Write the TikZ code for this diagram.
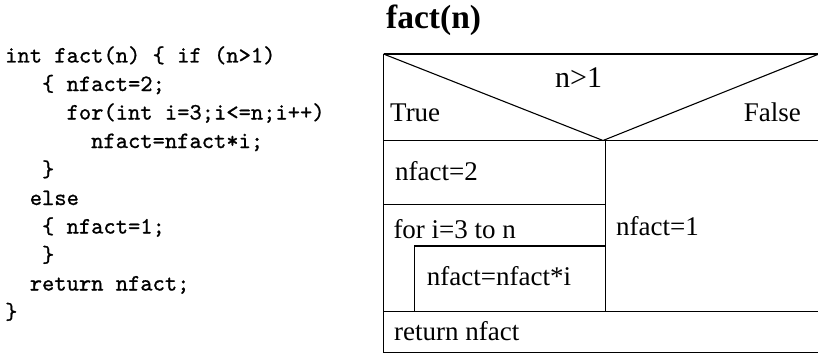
\documentclass[tikz,border=0pt]{standalone}
\usepackage{fontspec}
\setmainfont{Liberation Serif}
\newfontfamily\codefont{lmmono10-regular.otf}[RawFeature={embolden=0.9}]
\begin{document}
\begin{tikzpicture}[x=1pt,y=-1pt,
  code/.style={anchor=base west,inner sep=0pt,font=\codefont\fontsize{23.4}{28}\selectfont},
  body/.style={anchor=base west,inner sep=0pt,font=\fontsize{27}{30}\selectfont},
  box/.style={line width=1.1pt,black}]
\useasboundingbox (0,0) rectangle (818,353);
% code
\def\cw{12.285}
\node[code] (l1) at (5,62.5) {int fact(n) \{ if (n>1)};
\node[code] (l2) at (5+3*\cw,91) {\{ nfact=2;};
\node[code] (l3) at (5+5*\cw,119.5) {for(int i=3;i<=n;i++)};
\node[code] (l4) at (5+7*\cw,148) {nfact=nfact*i;};
\node[code] (l5) at (5+3*\cw,176.5) {\}};
\node[code] (l6) at (5+2*\cw,205) {else};
\node[code] (l7) at (5+3*\cw,233.5) {\{ nfact=1;};
\node[code] (l8) at (5+3*\cw,262) {\}};
\node[code] (l9) at (5+2*\cw,290.5) {return nfact;};
\node[code] (l10) at (5,319) {\}};
% title
\node[anchor=base west,inner sep=0pt,font=\bfseries\fontsize{33.5}{36}\selectfont] (title) at (386,28.5) {fact(n)};
% structogram
\coordinate (TL) at (383.5,54);
\coordinate (TR) at (819,54);
\coordinate (CL) at (383.5,140.5);
\coordinate (CR) at (819,140.5);
\coordinate (AP) at (603,140.5);
\coordinate (DV) at (605.5,140.5);
\draw[box] (TL) -- (TR);
\draw[box] (TL) -- (383.5,352.5);
\draw[box] (TL) -- (AP) -- (TR);
\draw[box] (CL) -- (CR);
\draw[box] (DV) -- (605.5,311.7);
\draw[box] (383.5,204.7) -- (605.5,204.7);
\draw[box] (414.3,311.7) -- (414.3,246) -- (605.5,246);
\draw[box] (383.5,311.7) -- (819,311.7);
\draw[box] (383.5,352.5) -- (819,352.5);
\node[anchor=base west,inner sep=0pt,font=\fontsize{30}{34}\selectfont] (cond) at (555,87) {n>1};
\node[body] (true) at (390,121.5) {True};
\node[body,anchor=base east] (false) at (801,121.5) {False};
\node[body] (s1) at (395,180.7) {nfact=2};
\node[body] (s2) at (393.3,238) {for i=3 to n};
\node[body] (s3) at (426.7,285) {nfact=nfact*i};
\node[body] (s4) at (616,235) {nfact=1};
\node[body] (s5) at (394,340) {return nfact};
\end{tikzpicture}
\end{document}
